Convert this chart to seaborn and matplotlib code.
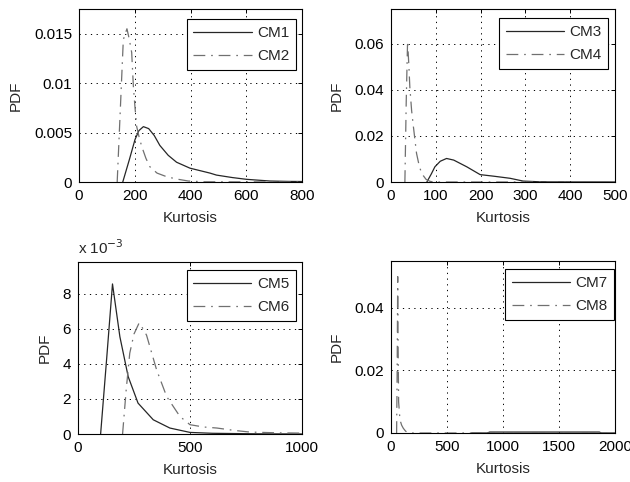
import matplotlib
matplotlib.use("Agg")
import matplotlib.pyplot as plt
import seaborn as sns
import pandas as pd

# Kurtosis PDFs for each CM pair
cm1_x = [157, 180, 201, 215, 231, 250, 270, 290, 320, 350, 398, 470, 493, 550, 601, 685, 750, 800]
cm1_y = [0, 0.0022, 0.0043, 0.0052, 0.0056, 0.0054, 0.0047, 0.0037, 0.0027, 0.0020, 0.0014,
         0.0009, 0.0007, 0.00045, 0.00027, 0.0001, 0.00006, 0.00005]
cm2_x = [137, 150, 159, 166, 172, 180, 189, 195, 201, 207, 216, 225, 240, 254, 280, 314, 350, 392, 450, 800]
cm2_y = [0, 0.0085, 0.0144, 0.0150, 0.0155, 0.0145, 0.0131, 0.0097, 0.0075, 0.0056, 0.0045,
         0.0036, 0.0024, 0.00155, 0.0009, 0.00054, 0.0003, 0.0001, 0.00002, 0]

cm3_x = [80, 90, 98, 110, 124, 140, 169, 199, 230, 266, 295, 330, 400, 500]
cm3_y = [0, 0.0035, 0.0066, 0.0090, 0.0102, 0.0095, 0.0066, 0.0032, 0.0025, 0.0016, 0.0004,
         0.0001, 0.00003, 0]
cm4_x = [31, 34, 37, 40, 42, 46, 50, 57, 63, 68.5, 78, 87, 95, 500]
cm4_y = [0, 0.035, 0.061, 0.050, 0.0413, 0.031, 0.024, 0.0124, 0.0070, 0.0037, 0.0012, 0.0003, 0, 0]

cm5_x = [101, 128, 154, 187, 224, 268, 336, 410, 500, 600, 800, 1000]
cm5_y = [0, 0.0043, 0.00855, 0.00554, 0.00327, 0.00176, 0.00081, 0.00034, 0.00009, 0.00004,
         0.00001, 0]
cm6_x = [199, 215, 231, 250, 273, 290, 306, 351, 396, 455, 500, 560, 620, 700, 768, 880, 1000]
cm6_y = [0, 0.0025, 0.0046, 0.0057, 0.00633, 0.0060, 0.00563, 0.00365, 0.00213, 0.0010,
         0.00053, 0.0004, 0.00034, 0.0002, 0.00011, 0.00007, 0.00005]

cm7_x = [720, 860, 880, 1860, 1880, 2000]
cm7_y = [0, 0, 0.0003, 0.0003, 0, 0]
cm8_x = [50, 55, 60, 63, 68, 80, 95, 110, 130, 149, 170, 2000]
cm8_y = [0, 0.02, 0.05, 0.03, 0.01, 0.0042, 0.0025, 0.0015, 0.0006, 0.0002, 0, 0]

# Axis settings per panel
x_ticks = [[0, 200, 400, 600, 800], [0, 100, 200, 300, 400, 500],
           [0, 500, 1000], [0, 500, 1000, 1500, 2000]]
y_ticks = [[0, 0.005, 0.01, 0.015], [0, 0.02, 0.04, 0.06],
           [0, 0.002, 0.004, 0.006, 0.008], [0, 0.02, 0.04]]
y_tick_labels = [["0", "0.005", "0.01", "0.015"], ["0", "0.02", "0.04", "0.06"],
                 ["0", "2", "4", "6", "8"], ["0", "0.02", "0.04"]]
x_limits = [(0, 800), (0, 500), (0, 1000), (0, 2000)]
y_limits = [(0, 0.0175), (0, 0.075), (0, 0.0098), (0, 0.055)]

series = [
    ("CM1", cm1_x, cm1_y, "CM2", cm2_x, cm2_y),
    ("CM3", cm3_x, cm3_y, "CM4", cm4_x, cm4_y),
    ("CM5", cm5_x, cm5_y, "CM6", cm6_x, cm6_y),
    ("CM7", cm7_x, cm7_y, "CM8", cm8_x, cm8_y),
]

sns.set_style("white")
plt.rcParams["font.family"] = ["Liberation Sans", "DejaVu Sans"]
plt.rcParams["lines.scale_dashes"] = False

W, H = 630, 482
fig = plt.figure(figsize=(W / 100, H / 100), dpi=100)

# axes boxes in pixels: left, top, right, bottom
boxes = [(79, 9, 302, 182), (391, 9, 615, 182), (78, 262, 302, 434), (391, 261, 615, 433)]
legend_anchor = [(0.973, 0.942), (0.969, 0.948), (0.973, 0.953), (0.996, 0.953)]

solid_color = "#262626"
dashdot_color = "#707070"
dashdot = (0, (8.5, 4.2, 1.2, 4.2))
fs = 11

for i, (l, t, r, b) in enumerate(boxes):
    ax = fig.add_axes([l / W, 1 - b / H, (r - l) / W, (b - t) / H])
    n1, x1, y1, n2, x2, y2 = series[i]
    d1 = pd.DataFrame({"Kurtosis": x1, "PDF": y1})
    d2 = pd.DataFrame({"Kurtosis": x2, "PDF": y2})
    sns.lineplot(data=d1, x="Kurtosis", y="PDF", ax=ax, color=solid_color,
                 linewidth=0.9, label=n1, estimator=None, sort=False)
    sns.lineplot(data=d2, x="Kurtosis", y="PDF", ax=ax, color=dashdot_color,
                 linewidth=0.9, linestyle=dashdot, label=n2, estimator=None, sort=False)
    ax.set_xlim(*x_limits[i])
    ax.set_ylim(*y_limits[i])
    ax.set_xticks(x_ticks[i])
    ax.set_xticklabels([str(v) for v in x_ticks[i]])
    ax.set_yticks(y_ticks[i])
    ax.set_yticklabels(y_tick_labels[i])
    ax.grid(True, color="black", linestyle=(0, (0.9, 3.2)), linewidth=0.7)
    ax.tick_params(direction="in", length=3, width=0.7, top=True, right=True,
                   labelsize=fs, pad=5, colors="black")
    for s in ax.spines.values():
        s.set_visible(True)
        s.set_color("black")
        s.set_linewidth(0.8)
    ax.set_xlabel("Kurtosis", fontsize=fs, labelpad=6)
    ax.set_ylabel("PDF", fontsize=fs, labelpad=8)
    leg = ax.legend(loc="upper right", bbox_to_anchor=legend_anchor[i], borderaxespad=0,
                    fontsize=fs, fancybox=False, framealpha=1, edgecolor="black",
                    handlelength=3.8, handletextpad=0.35, labelspacing=0.6,
                    borderpad=0.45)
    leg.get_frame().set_linewidth(0.8)

fig.text(78 / W, 1 - 254 / H, r"x 10$^{-3}$", fontsize=fs, ha="left", va="baseline")

fig.savefig("out.png", dpi=100, facecolor="white")
